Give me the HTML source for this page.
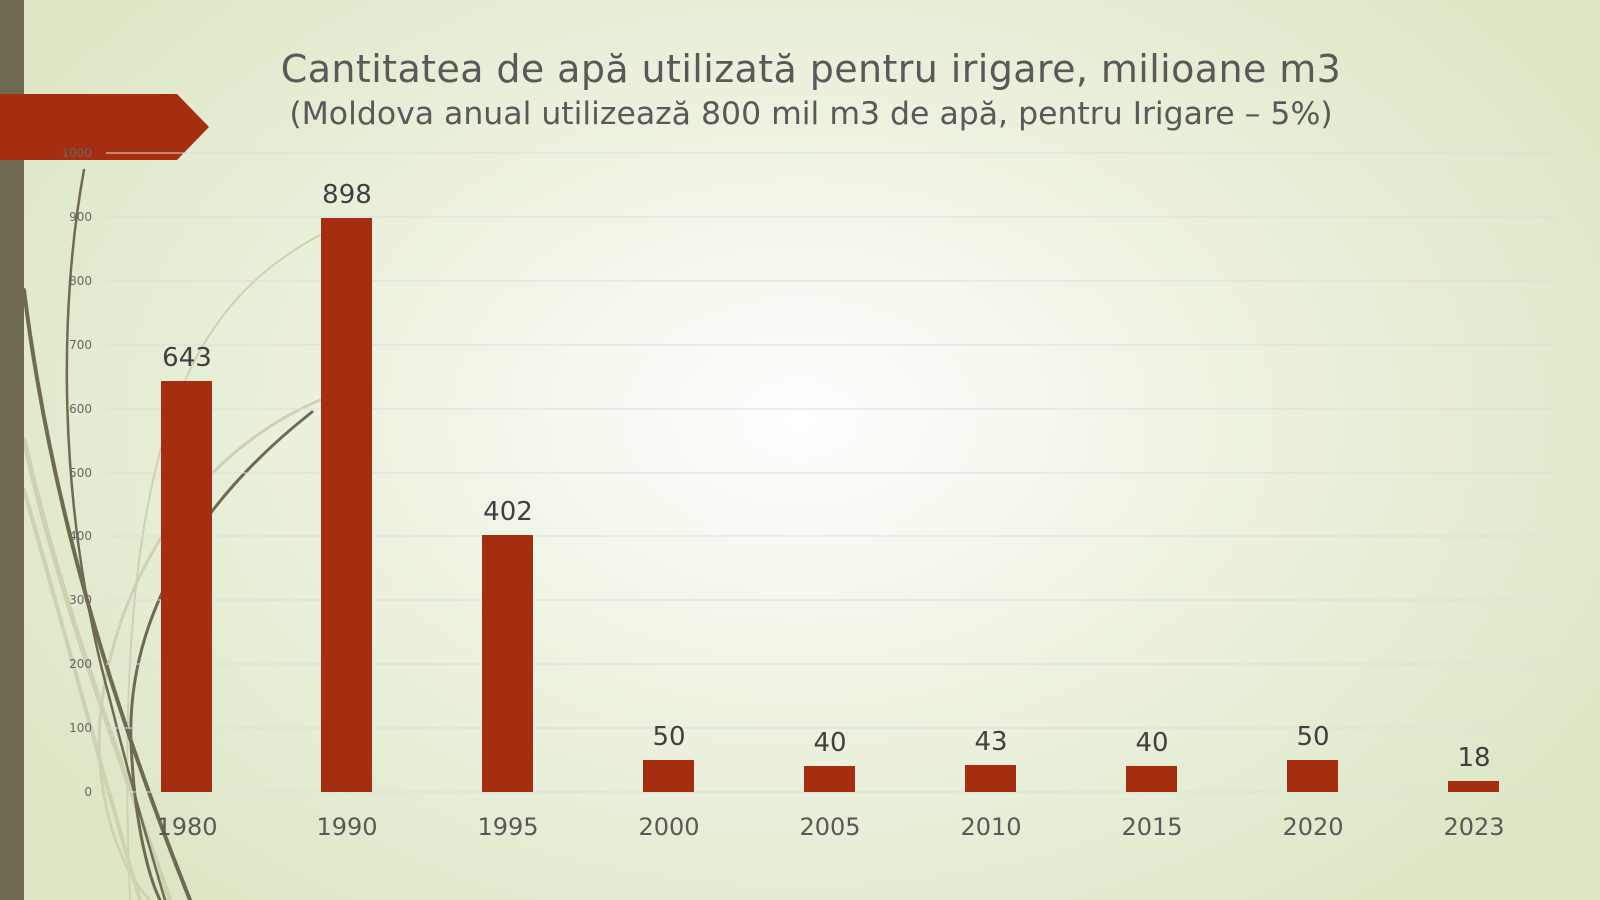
<!DOCTYPE html>
<html><head><meta charset="utf-8"><style>
html,body{margin:0;padding:0;}
body{width:1600px;height:900px;overflow:hidden;background:radial-gradient(ellipse 900px 620px at 800px 420px,#ffffff 0%,#eef3e2 45%,#dde7c6 100%);font-family:"DejaVu Sans","Liberation Sans",sans-serif;}
svg{position:absolute;left:0;top:0;}
</style></head><body>
<svg width="1600" height="900" viewBox="0 0 1600 900">
<g fill="none" stroke-linecap="round">
<path d="M24 440 C60 600 120 760 170 900" stroke="#cfd2b0" stroke-width="5"/>
<path d="M24 490 C70 650 110 800 140 900" stroke="#cfd2b0" stroke-width="4"/>
<path d="M320 400 C180 460 110 600 100 720 C95 800 120 870 150 900" stroke="#cfd2b0" stroke-width="3"/>
<path d="M320 235 C200 300 110 420 130 900" stroke="#cfd2b0" stroke-width="2"/>
<path d="M24 290 C50 500 110 700 190 900" stroke="#716a53" stroke-width="4"/>
<path d="M84 170 C60 300 55 500 110 700 C130 780 150 850 165 900" stroke="#716a53" stroke-width="2.5"/>
<path d="M312 412 C200 500 120 620 132 760 C136 830 150 880 160 900" stroke="#716a53" stroke-width="3"/>
</g>
<rect x="0" y="0" width="24" height="900" fill="#716a53"/>
<polygon points="0,94 177,94 209,127 177,160 0,160" fill="#a52e11"/>
<g stroke="#dcdce0" stroke-width="1">
<line x1="106" y1="153" x2="1554" y2="153"/><line x1="106" y1="217" x2="1554" y2="217"/>
<line x1="106" y1="281" x2="1554" y2="281"/><line x1="106" y1="345" x2="1554" y2="345"/>
<line x1="106" y1="409" x2="1554" y2="409"/><line x1="106" y1="473" x2="1554" y2="473"/>
<line x1="106" y1="536" x2="1554" y2="536"/><line x1="106" y1="600" x2="1554" y2="600"/>
<line x1="106" y1="664" x2="1554" y2="664"/><line x1="106" y1="728" x2="1554" y2="728"/>
<line x1="106" y1="792" x2="1554" y2="792"/>
</g>
<g font-size="12" fill="#666" text-anchor="end">
<text x="92" y="157">1000</text><text x="92" y="221">900</text><text x="92" y="285">800</text>
<text x="92" y="349">700</text><text x="92" y="413">600</text><text x="92" y="477">500</text>
<text x="92" y="540">400</text><text x="92" y="604">300</text><text x="92" y="668">200</text>
<text x="92" y="732">100</text><text x="92" y="796">0</text>
</g>
<g fill="#a52e11">
<rect x="161" y="381" width="51" height="411"/>
<rect x="321" y="218" width="51" height="574"/>
<rect x="482" y="535" width="51" height="257"/>
<rect x="643" y="760" width="51" height="32"/>
<rect x="804" y="766" width="51" height="26"/>
<rect x="965" y="765" width="51" height="27"/>
<rect x="1126" y="766" width="51" height="26"/>
<rect x="1287" y="760" width="51" height="32"/>
<rect x="1448" y="781" width="51" height="11"/>
</g>
<g font-size="26" fill="#404040" text-anchor="middle">
<text x="187" y="366">643</text><text x="347" y="203">898</text><text x="508" y="520">402</text>
<text x="669" y="745">50</text><text x="830" y="751">40</text><text x="991" y="750">43</text>
<text x="1152" y="751">40</text><text x="1313" y="745">50</text><text x="1474" y="766">18</text>
</g>
<g font-size="24" fill="#595959" text-anchor="middle">
<text x="187" y="835">1980</text><text x="347" y="835">1990</text><text x="508" y="835">1995</text>
<text x="669" y="835">2000</text><text x="830" y="835">2005</text><text x="991" y="835">2010</text>
<text x="1152" y="835">2015</text><text x="1313" y="835">2020</text><text x="1474" y="835">2023</text>
</g>
<text x="811" y="82" font-size="38" fill="#595959" text-anchor="middle" letter-spacing="0.4">Cantitatea de apă utilizată pentru irigare, milioane m3</text>
<text x="811" y="124" font-size="31.5" fill="#595959" text-anchor="middle">(Moldova anual utilizează 800 mil m3 de apă, pentru Irigare – 5%)</text>
</svg>
</body></html>
